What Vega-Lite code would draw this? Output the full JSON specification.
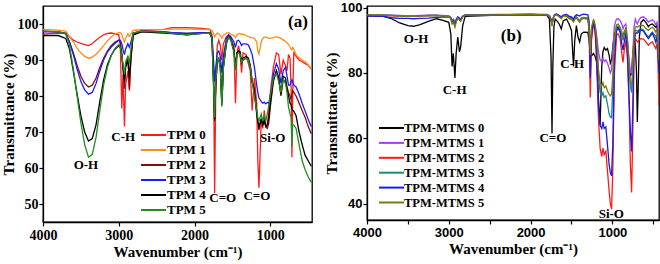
{
"$schema":"https://vega.github.io/schema/vega-lite/v6.json",
"padding":{"left":0,"top":0,"right":1,"bottom":0},
"background":"white",
"config":{"view":{"stroke":"black","strokeWidth":1.3},"axis":{"domainColor":"black","tickColor":"black","labelColor":"black","titleColor":"black","grid":false,"domainWidth":1.3,"tickWidth":1.2,"tickSize":4,"labelFlush":false,"labelOverlap":false},"concat":{"spacing":10}},
"resolve":{"scale":{"color":"independent","x":"independent","y":"independent"},"legend":{"color":"independent"}},
"datasets":{
"a":[
{"s":"TPM 0","w":4000,"t":97.2},{"s":"TPM 0","w":3800,"t":97.5},{"s":"TPM 0","w":3700,"t":97.3},{"s":"TPM 0","w":3650,"t":96.5},{"s":"TPM 0","w":3600,"t":95.5},{"s":"TPM 0","w":3550,"t":95},{"s":"TPM 0","w":3500,"t":94.6},{"s":"TPM 0","w":3450,"t":94.3},{"s":"TPM 0","w":3400,"t":94},{"s":"TPM 0","w":3350,"t":94.6},
{"s":"TPM 0","w":3300,"t":95.5},{"s":"TPM 0","w":3250,"t":96.3},{"s":"TPM 0","w":3200,"t":97},{"s":"TPM 0","w":3150,"t":97.4},{"s":"TPM 0","w":3100,"t":97.5},{"s":"TPM 0","w":3050,"t":97.3},{"s":"TPM 0","w":3000,"t":97},{"s":"TPM 0","w":2980,"t":94},{"s":"TPM 0","w":2960,"t":76.5},{"s":"TPM 0","w":2945,"t":86},
{"s":"TPM 0","w":2925,"t":71.5},{"s":"TPM 0","w":2910,"t":83},{"s":"TPM 0","w":2880,"t":87},{"s":"TPM 0","w":2860,"t":81.5},{"s":"TPM 0","w":2840,"t":91},{"s":"TPM 0","w":2810,"t":97.3},{"s":"TPM 0","w":2700,"t":98.2},{"s":"TPM 0","w":2400,"t":98.5},{"s":"TPM 0","w":2300,"t":99},{"s":"TPM 0","w":2100,"t":99},
{"s":"TPM 0","w":1900,"t":98.8},{"s":"TPM 0","w":1800,"t":98.5},{"s":"TPM 0","w":1770,"t":97},{"s":"TPM 0","w":1750,"t":88},{"s":"TPM 0","w":1735,"t":53},{"s":"TPM 0","w":1720,"t":82},{"s":"TPM 0","w":1700,"t":94},{"s":"TPM 0","w":1680,"t":95.5},{"s":"TPM 0","w":1660,"t":94},{"s":"TPM 0","w":1640,"t":90},
{"s":"TPM 0","w":1620,"t":94.5},{"s":"TPM 0","w":1580,"t":96.5},{"s":"TPM 0","w":1550,"t":96.8},{"s":"TPM 0","w":1520,"t":96},{"s":"TPM 0","w":1480,"t":93.5},{"s":"TPM 0","w":1460,"t":78},{"s":"TPM 0","w":1440,"t":92},{"s":"TPM 0","w":1420,"t":94},{"s":"TPM 0","w":1400,"t":92},{"s":"TPM 0","w":1380,"t":86.5},
{"s":"TPM 0","w":1360,"t":92},{"s":"TPM 0","w":1320,"t":91.5},{"s":"TPM 0","w":1290,"t":89},{"s":"TPM 0","w":1265,"t":87},{"s":"TPM 0","w":1240,"t":76},{"s":"TPM 0","w":1210,"t":85},{"s":"TPM 0","w":1180,"t":78},{"s":"TPM 0","w":1165,"t":62},{"s":"TPM 0","w":1150,"t":54.5},{"s":"TPM 0","w":1120,"t":73},
{"s":"TPM 0","w":1100,"t":71},{"s":"TPM 0","w":1080,"t":76},{"s":"TPM 0","w":1060,"t":72},{"s":"TPM 0","w":1040,"t":71.5},{"s":"TPM 0","w":1020,"t":76},{"s":"TPM 0","w":1000,"t":81},{"s":"TPM 0","w":960,"t":88},{"s":"TPM 0","w":920,"t":92},{"s":"TPM 0","w":890,"t":91.5},{"s":"TPM 0","w":860,"t":86},
{"s":"TPM 0","w":830,"t":90},{"s":"TPM 0","w":800,"t":88.5},{"s":"TPM 0","w":780,"t":87},{"s":"TPM 0","w":760,"t":91.5},{"s":"TPM 0","w":740,"t":90.5},{"s":"TPM 0","w":725,"t":82},{"s":"TPM 0","w":715,"t":63},{"s":"TPM 0","w":705,"t":80},{"s":"TPM 0","w":690,"t":92},{"s":"TPM 0","w":660,"t":91},
{"s":"TPM 0","w":620,"t":90},{"s":"TPM 0","w":580,"t":89.5},{"s":"TPM 0","w":540,"t":89},{"s":"TPM 0","w":500,"t":88.5},{"s":"TPM 0","w":460,"t":87.5},

{"s":"TPM 1","w":4000,"t":98.5},{"s":"TPM 1","w":3800,"t":98.3},{"s":"TPM 1","w":3700,"t":98},{"s":"TPM 1","w":3650,"t":96.5},{"s":"TPM 1","w":3600,"t":95},{"s":"TPM 1","w":3550,"t":93.3},{"s":"TPM 1","w":3500,"t":92},{"s":"TPM 1","w":3450,"t":91},{"s":"TPM 1","w":3400,"t":90.5},{"s":"TPM 1","w":3350,"t":90.8},
{"s":"TPM 1","w":3300,"t":91.6},{"s":"TPM 1","w":3250,"t":92.7},{"s":"TPM 1","w":3200,"t":94},{"s":"TPM 1","w":3150,"t":95.3},{"s":"TPM 1","w":3100,"t":96.4},{"s":"TPM 1","w":3050,"t":97.2},{"s":"TPM 1","w":3000,"t":97.6},{"s":"TPM 1","w":2980,"t":97.6},{"s":"TPM 1","w":2960,"t":97.2},{"s":"TPM 1","w":2945,"t":96},
{"s":"TPM 1","w":2925,"t":95},{"s":"TPM 1","w":2910,"t":96},{"s":"TPM 1","w":2880,"t":97.3},{"s":"TPM 1","w":2860,"t":96.5},{"s":"TPM 1","w":2840,"t":97.3},{"s":"TPM 1","w":2810,"t":98.2},{"s":"TPM 1","w":2700,"t":98.4},{"s":"TPM 1","w":2400,"t":98.5},{"s":"TPM 1","w":2300,"t":98.6},{"s":"TPM 1","w":2100,"t":98.6},
{"s":"TPM 1","w":1900,"t":98.5},{"s":"TPM 1","w":1800,"t":98.5},{"s":"TPM 1","w":1770,"t":98.2},{"s":"TPM 1","w":1750,"t":97.5},{"s":"TPM 1","w":1735,"t":96.5},{"s":"TPM 1","w":1720,"t":97},{"s":"TPM 1","w":1700,"t":97.5},{"s":"TPM 1","w":1680,"t":97.3},{"s":"TPM 1","w":1660,"t":96.8},{"s":"TPM 1","w":1640,"t":96},
{"s":"TPM 1","w":1620,"t":96.8},{"s":"TPM 1","w":1580,"t":97.5},{"s":"TPM 1","w":1550,"t":97.6},{"s":"TPM 1","w":1520,"t":97.2},{"s":"TPM 1","w":1480,"t":96.8},{"s":"TPM 1","w":1460,"t":96.2},{"s":"TPM 1","w":1440,"t":97},{"s":"TPM 1","w":1420,"t":97.3},{"s":"TPM 1","w":1400,"t":97.4},{"s":"TPM 1","w":1380,"t":97},
{"s":"TPM 1","w":1360,"t":97.2},{"s":"TPM 1","w":1320,"t":96.8},{"s":"TPM 1","w":1290,"t":96.5},{"s":"TPM 1","w":1265,"t":96.3},{"s":"TPM 1","w":1240,"t":96.2},{"s":"TPM 1","w":1210,"t":96},{"s":"TPM 1","w":1180,"t":95},{"s":"TPM 1","w":1165,"t":92.5},{"s":"TPM 1","w":1150,"t":91.6},{"s":"TPM 1","w":1120,"t":95},
{"s":"TPM 1","w":1100,"t":96},{"s":"TPM 1","w":1080,"t":96.4},{"s":"TPM 1","w":1060,"t":96.3},{"s":"TPM 1","w":1040,"t":96.2},{"s":"TPM 1","w":1020,"t":96},{"s":"TPM 1","w":1000,"t":96},{"s":"TPM 1","w":960,"t":96.2},{"s":"TPM 1","w":920,"t":96.5},{"s":"TPM 1","w":890,"t":96.3},{"s":"TPM 1","w":860,"t":96},
{"s":"TPM 1","w":830,"t":95.6},{"s":"TPM 1","w":800,"t":95.2},{"s":"TPM 1","w":780,"t":94.8},{"s":"TPM 1","w":760,"t":94.3},{"s":"TPM 1","w":740,"t":93.6},{"s":"TPM 1","w":725,"t":93},{"s":"TPM 1","w":715,"t":92.8},{"s":"TPM 1","w":705,"t":93.5},{"s":"TPM 1","w":690,"t":93},{"s":"TPM 1","w":660,"t":91.5},
{"s":"TPM 1","w":620,"t":90.6},{"s":"TPM 1","w":580,"t":90},{"s":"TPM 1","w":540,"t":89.5},{"s":"TPM 1","w":500,"t":88.6},{"s":"TPM 1","w":460,"t":87.6},

{"s":"TPM 2","w":4000,"t":98},{"s":"TPM 2","w":3800,"t":97.8},{"s":"TPM 2","w":3700,"t":97.5},{"s":"TPM 2","w":3650,"t":95},{"s":"TPM 2","w":3600,"t":92},{"s":"TPM 2","w":3550,"t":88.5},{"s":"TPM 2","w":3500,"t":85.5},{"s":"TPM 2","w":3450,"t":83.5},{"s":"TPM 2","w":3400,"t":82.5},{"s":"TPM 2","w":3350,"t":83},
{"s":"TPM 2","w":3300,"t":85},{"s":"TPM 2","w":3250,"t":88},{"s":"TPM 2","w":3200,"t":90.5},{"s":"TPM 2","w":3150,"t":92.5},{"s":"TPM 2","w":3100,"t":94},{"s":"TPM 2","w":3050,"t":95},{"s":"TPM 2","w":3000,"t":95.5},{"s":"TPM 2","w":2980,"t":95},{"s":"TPM 2","w":2960,"t":92},{"s":"TPM 2","w":2945,"t":88},
{"s":"TPM 2","w":2925,"t":82},{"s":"TPM 2","w":2910,"t":88},{"s":"TPM 2","w":2880,"t":91},{"s":"TPM 2","w":2860,"t":82},{"s":"TPM 2","w":2840,"t":90},{"s":"TPM 2","w":2810,"t":97},{"s":"TPM 2","w":2700,"t":98},{"s":"TPM 2","w":2400,"t":97.8},{"s":"TPM 2","w":2300,"t":97.6},{"s":"TPM 2","w":2100,"t":97.4},
{"s":"TPM 2","w":1900,"t":97.6},{"s":"TPM 2","w":1800,"t":97.6},{"s":"TPM 2","w":1770,"t":96},{"s":"TPM 2","w":1750,"t":85},{"s":"TPM 2","w":1735,"t":73},{"s":"TPM 2","w":1720,"t":83},{"s":"TPM 2","w":1700,"t":90},{"s":"TPM 2","w":1680,"t":90.5},{"s":"TPM 2","w":1660,"t":88.5},{"s":"TPM 2","w":1640,"t":78},
{"s":"TPM 2","w":1620,"t":88},{"s":"TPM 2","w":1580,"t":95},{"s":"TPM 2","w":1550,"t":96.5},{"s":"TPM 2","w":1520,"t":96},{"s":"TPM 2","w":1480,"t":93},{"s":"TPM 2","w":1460,"t":88},{"s":"TPM 2","w":1440,"t":92},{"s":"TPM 2","w":1420,"t":92.5},{"s":"TPM 2","w":1400,"t":91.5},{"s":"TPM 2","w":1380,"t":89},
{"s":"TPM 2","w":1360,"t":90},{"s":"TPM 2","w":1320,"t":90.5},{"s":"TPM 2","w":1290,"t":90},{"s":"TPM 2","w":1265,"t":88.5},{"s":"TPM 2","w":1240,"t":84},{"s":"TPM 2","w":1210,"t":82},{"s":"TPM 2","w":1180,"t":76},{"s":"TPM 2","w":1165,"t":73},{"s":"TPM 2","w":1150,"t":70.5},{"s":"TPM 2","w":1120,"t":73.5},
{"s":"TPM 2","w":1100,"t":72},{"s":"TPM 2","w":1080,"t":73},{"s":"TPM 2","w":1060,"t":71.5},{"s":"TPM 2","w":1040,"t":71},{"s":"TPM 2","w":1020,"t":72.5},{"s":"TPM 2","w":1000,"t":77},{"s":"TPM 2","w":960,"t":84},{"s":"TPM 2","w":920,"t":87},{"s":"TPM 2","w":890,"t":85},{"s":"TPM 2","w":860,"t":80},
{"s":"TPM 2","w":830,"t":84.5},{"s":"TPM 2","w":800,"t":84},{"s":"TPM 2","w":780,"t":82.5},{"s":"TPM 2","w":760,"t":81},{"s":"TPM 2","w":740,"t":80},{"s":"TPM 2","w":725,"t":79},{"s":"TPM 2","w":715,"t":80.5},{"s":"TPM 2","w":705,"t":81.5},{"s":"TPM 2","w":690,"t":81},{"s":"TPM 2","w":660,"t":80},
{"s":"TPM 2","w":620,"t":78},{"s":"TPM 2","w":580,"t":76},{"s":"TPM 2","w":540,"t":74},{"s":"TPM 2","w":500,"t":71.5},{"s":"TPM 2","w":460,"t":69.5},

{"s":"TPM 3","w":4000,"t":97.8},{"s":"TPM 3","w":3800,"t":97.8},{"s":"TPM 3","w":3700,"t":97.3},{"s":"TPM 3","w":3650,"t":95},{"s":"TPM 3","w":3600,"t":91.5},{"s":"TPM 3","w":3550,"t":87.5},{"s":"TPM 3","w":3500,"t":84},{"s":"TPM 3","w":3450,"t":81.7},{"s":"TPM 3","w":3400,"t":80.5},{"s":"TPM 3","w":3350,"t":81},
{"s":"TPM 3","w":3300,"t":83.5},{"s":"TPM 3","w":3250,"t":87},{"s":"TPM 3","w":3200,"t":90},{"s":"TPM 3","w":3150,"t":92.2},{"s":"TPM 3","w":3100,"t":93.6},{"s":"TPM 3","w":3050,"t":94.6},{"s":"TPM 3","w":3000,"t":95.5},{"s":"TPM 3","w":2980,"t":95.5},{"s":"TPM 3","w":2960,"t":94.5},{"s":"TPM 3","w":2945,"t":93},
{"s":"TPM 3","w":2925,"t":91.5},{"s":"TPM 3","w":2910,"t":93},{"s":"TPM 3","w":2880,"t":94.5},{"s":"TPM 3","w":2860,"t":93.5},{"s":"TPM 3","w":2840,"t":95},{"s":"TPM 3","w":2810,"t":97.5},{"s":"TPM 3","w":2700,"t":98},{"s":"TPM 3","w":2400,"t":97.8},{"s":"TPM 3","w":2300,"t":97.6},{"s":"TPM 3","w":2100,"t":97.4},
{"s":"TPM 3","w":1900,"t":97.6},{"s":"TPM 3","w":1800,"t":97.6},{"s":"TPM 3","w":1770,"t":96.5},{"s":"TPM 3","w":1750,"t":90},{"s":"TPM 3","w":1735,"t":84},{"s":"TPM 3","w":1720,"t":88},{"s":"TPM 3","w":1700,"t":92},{"s":"TPM 3","w":1680,"t":92.5},{"s":"TPM 3","w":1660,"t":91},{"s":"TPM 3","w":1640,"t":86.5},
{"s":"TPM 3","w":1620,"t":91},{"s":"TPM 3","w":1580,"t":96},{"s":"TPM 3","w":1550,"t":97},{"s":"TPM 3","w":1520,"t":96.5},{"s":"TPM 3","w":1480,"t":95},{"s":"TPM 3","w":1460,"t":93.5},{"s":"TPM 3","w":1440,"t":95.3},{"s":"TPM 3","w":1420,"t":95.5},{"s":"TPM 3","w":1400,"t":95},{"s":"TPM 3","w":1380,"t":94},
{"s":"TPM 3","w":1360,"t":94.5},{"s":"TPM 3","w":1320,"t":94.5},{"s":"TPM 3","w":1290,"t":94.2},{"s":"TPM 3","w":1265,"t":93},{"s":"TPM 3","w":1240,"t":91.5},{"s":"TPM 3","w":1210,"t":88},{"s":"TPM 3","w":1180,"t":83},{"s":"TPM 3","w":1165,"t":81},{"s":"TPM 3","w":1150,"t":79.5},{"s":"TPM 3","w":1120,"t":78.5},
{"s":"TPM 3","w":1100,"t":78},{"s":"TPM 3","w":1080,"t":78.3},{"s":"TPM 3","w":1060,"t":77.8},{"s":"TPM 3","w":1040,"t":78.2},{"s":"TPM 3","w":1020,"t":78},{"s":"TPM 3","w":1000,"t":80},{"s":"TPM 3","w":960,"t":86},{"s":"TPM 3","w":920,"t":89},{"s":"TPM 3","w":890,"t":87.5},{"s":"TPM 3","w":860,"t":83.5},
{"s":"TPM 3","w":830,"t":87},{"s":"TPM 3","w":800,"t":88},{"s":"TPM 3","w":780,"t":85.5},{"s":"TPM 3","w":760,"t":83},{"s":"TPM 3","w":740,"t":83},{"s":"TPM 3","w":725,"t":84},{"s":"TPM 3","w":715,"t":84.5},{"s":"TPM 3","w":705,"t":84},{"s":"TPM 3","w":690,"t":83},{"s":"TPM 3","w":660,"t":82.5},
{"s":"TPM 3","w":620,"t":80.5},{"s":"TPM 3","w":580,"t":78},{"s":"TPM 3","w":540,"t":75.8},{"s":"TPM 3","w":500,"t":73.5},{"s":"TPM 3","w":460,"t":71.5},

{"s":"TPM 4","w":4000,"t":96.8},{"s":"TPM 4","w":3800,"t":96.8},{"s":"TPM 4","w":3700,"t":96},{"s":"TPM 4","w":3650,"t":93},{"s":"TPM 4","w":3600,"t":87},{"s":"TPM 4","w":3550,"t":80.5},{"s":"TPM 4","w":3500,"t":74.5},{"s":"TPM 4","w":3450,"t":70},{"s":"TPM 4","w":3400,"t":67.5},{"s":"TPM 4","w":3350,"t":68.2},
{"s":"TPM 4","w":3300,"t":72},{"s":"TPM 4","w":3250,"t":78.5},{"s":"TPM 4","w":3200,"t":84.5},{"s":"TPM 4","w":3150,"t":88.7},{"s":"TPM 4","w":3100,"t":91.3},{"s":"TPM 4","w":3050,"t":93},{"s":"TPM 4","w":3000,"t":94},{"s":"TPM 4","w":2980,"t":93.5},{"s":"TPM 4","w":2960,"t":91.5},{"s":"TPM 4","w":2945,"t":88},
{"s":"TPM 4","w":2925,"t":84},{"s":"TPM 4","w":2910,"t":88},{"s":"TPM 4","w":2880,"t":90},{"s":"TPM 4","w":2860,"t":85},{"s":"TPM 4","w":2840,"t":91},{"s":"TPM 4","w":2810,"t":97},{"s":"TPM 4","w":2700,"t":97.8},{"s":"TPM 4","w":2400,"t":97.5},{"s":"TPM 4","w":2300,"t":97.3},{"s":"TPM 4","w":2100,"t":97},
{"s":"TPM 4","w":1900,"t":97.4},{"s":"TPM 4","w":1800,"t":97.5},{"s":"TPM 4","w":1770,"t":96},{"s":"TPM 4","w":1750,"t":84},{"s":"TPM 4","w":1735,"t":73.5},{"s":"TPM 4","w":1720,"t":83},{"s":"TPM 4","w":1700,"t":90},{"s":"TPM 4","w":1680,"t":90},{"s":"TPM 4","w":1660,"t":88},{"s":"TPM 4","w":1640,"t":77.5},
{"s":"TPM 4","w":1620,"t":88},{"s":"TPM 4","w":1580,"t":94.5},{"s":"TPM 4","w":1550,"t":96.5},{"s":"TPM 4","w":1520,"t":95.5},{"s":"TPM 4","w":1480,"t":92.5},{"s":"TPM 4","w":1460,"t":88},{"s":"TPM 4","w":1440,"t":92},{"s":"TPM 4","w":1420,"t":92.5},{"s":"TPM 4","w":1400,"t":92.3},{"s":"TPM 4","w":1380,"t":90},
{"s":"TPM 4","w":1360,"t":90.5},{"s":"TPM 4","w":1320,"t":91},{"s":"TPM 4","w":1290,"t":90.5},{"s":"TPM 4","w":1265,"t":88.5},{"s":"TPM 4","w":1240,"t":84},{"s":"TPM 4","w":1210,"t":81},{"s":"TPM 4","w":1180,"t":75},{"s":"TPM 4","w":1165,"t":73},{"s":"TPM 4","w":1150,"t":71.5},{"s":"TPM 4","w":1120,"t":73.5},
{"s":"TPM 4","w":1100,"t":72},{"s":"TPM 4","w":1080,"t":73.5},{"s":"TPM 4","w":1060,"t":71.5},{"s":"TPM 4","w":1040,"t":72},{"s":"TPM 4","w":1020,"t":74},{"s":"TPM 4","w":1000,"t":78},{"s":"TPM 4","w":960,"t":84.5},{"s":"TPM 4","w":920,"t":87},{"s":"TPM 4","w":890,"t":85},{"s":"TPM 4","w":860,"t":80.5},
{"s":"TPM 4","w":830,"t":85.5},{"s":"TPM 4","w":800,"t":85},{"s":"TPM 4","w":780,"t":82},{"s":"TPM 4","w":760,"t":80},{"s":"TPM 4","w":740,"t":78},{"s":"TPM 4","w":725,"t":77.5},{"s":"TPM 4","w":715,"t":76.5},{"s":"TPM 4","w":705,"t":76},{"s":"TPM 4","w":690,"t":75.8},{"s":"TPM 4","w":660,"t":74.5},
{"s":"TPM 4","w":620,"t":70},{"s":"TPM 4","w":580,"t":66.5},{"s":"TPM 4","w":540,"t":63.5},{"s":"TPM 4","w":500,"t":62},{"s":"TPM 4","w":460,"t":60.5},

{"s":"TPM 5","w":4000,"t":98},{"s":"TPM 5","w":3800,"t":97.9},{"s":"TPM 5","w":3700,"t":97.3},{"s":"TPM 5","w":3650,"t":94},{"s":"TPM 5","w":3600,"t":87.5},{"s":"TPM 5","w":3550,"t":80},{"s":"TPM 5","w":3500,"t":72.5},{"s":"TPM 5","w":3450,"t":66.5},{"s":"TPM 5","w":3400,"t":63},{"s":"TPM 5","w":3350,"t":63.8},
{"s":"TPM 5","w":3300,"t":68.5},{"s":"TPM 5","w":3250,"t":76},{"s":"TPM 5","w":3200,"t":83},{"s":"TPM 5","w":3150,"t":88},{"s":"TPM 5","w":3100,"t":91.2},{"s":"TPM 5","w":3050,"t":93.2},{"s":"TPM 5","w":3000,"t":94.3},{"s":"TPM 5","w":2980,"t":93.5},{"s":"TPM 5","w":2960,"t":91},{"s":"TPM 5","w":2945,"t":89},
{"s":"TPM 5","w":2925,"t":86},{"s":"TPM 5","w":2910,"t":89.5},{"s":"TPM 5","w":2880,"t":91},{"s":"TPM 5","w":2860,"t":89},{"s":"TPM 5","w":2840,"t":93},{"s":"TPM 5","w":2810,"t":97.5},{"s":"TPM 5","w":2700,"t":98},{"s":"TPM 5","w":2400,"t":97.7},{"s":"TPM 5","w":2300,"t":97.4},{"s":"TPM 5","w":2100,"t":97},
{"s":"TPM 5","w":1900,"t":97.4},{"s":"TPM 5","w":1800,"t":97.5},{"s":"TPM 5","w":1770,"t":96},{"s":"TPM 5","w":1750,"t":83},{"s":"TPM 5","w":1735,"t":74},{"s":"TPM 5","w":1720,"t":84},{"s":"TPM 5","w":1700,"t":90},{"s":"TPM 5","w":1680,"t":90.5},{"s":"TPM 5","w":1660,"t":87.5},{"s":"TPM 5","w":1640,"t":77},
{"s":"TPM 5","w":1620,"t":87.5},{"s":"TPM 5","w":1580,"t":95},{"s":"TPM 5","w":1550,"t":96.3},{"s":"TPM 5","w":1520,"t":95.5},{"s":"TPM 5","w":1480,"t":92},{"s":"TPM 5","w":1460,"t":87},{"s":"TPM 5","w":1440,"t":91.5},{"s":"TPM 5","w":1420,"t":92},{"s":"TPM 5","w":1400,"t":91.6},{"s":"TPM 5","w":1380,"t":89.5},
{"s":"TPM 5","w":1360,"t":90},{"s":"TPM 5","w":1320,"t":90.5},{"s":"TPM 5","w":1290,"t":90},{"s":"TPM 5","w":1265,"t":88},{"s":"TPM 5","w":1240,"t":84},{"s":"TPM 5","w":1210,"t":80},{"s":"TPM 5","w":1180,"t":76},{"s":"TPM 5","w":1165,"t":74},{"s":"TPM 5","w":1150,"t":73},{"s":"TPM 5","w":1120,"t":75},
{"s":"TPM 5","w":1100,"t":73},{"s":"TPM 5","w":1080,"t":74.5},{"s":"TPM 5","w":1060,"t":73},{"s":"TPM 5","w":1040,"t":75},{"s":"TPM 5","w":1020,"t":77.5},{"s":"TPM 5","w":1000,"t":80},{"s":"TPM 5","w":960,"t":85},{"s":"TPM 5","w":920,"t":86.3},{"s":"TPM 5","w":890,"t":84},{"s":"TPM 5","w":860,"t":81},
{"s":"TPM 5","w":830,"t":84.7},{"s":"TPM 5","w":800,"t":83.5},{"s":"TPM 5","w":780,"t":81},{"s":"TPM 5","w":760,"t":77},{"s":"TPM 5","w":740,"t":75},{"s":"TPM 5","w":725,"t":74},{"s":"TPM 5","w":715,"t":66},{"s":"TPM 5","w":705,"t":72},{"s":"TPM 5","w":690,"t":72},{"s":"TPM 5","w":660,"t":71},
{"s":"TPM 5","w":620,"t":66.5},{"s":"TPM 5","w":580,"t":62},{"s":"TPM 5","w":540,"t":59.5},{"s":"TPM 5","w":500,"t":57.5},{"s":"TPM 5","w":460,"t":56}
],
"b":[
{"s":"TPM-MTMS 0","w":4000,"t":97.5},{"s":"TPM-MTMS 0","w":3800,"t":97.3},{"s":"TPM-MTMS 0","w":3700,"t":96.6},{"s":"TPM-MTMS 0","w":3600,"t":95.3},{"s":"TPM-MTMS 0","w":3500,"t":94.5},{"s":"TPM-MTMS 0","w":3430,"t":94.3},{"s":"TPM-MTMS 0","w":3350,"t":94.8},{"s":"TPM-MTMS 0","w":3250,"t":95.8},{"s":"TPM-MTMS 0","w":3150,"t":96.6},{"s":"TPM-MTMS 0","w":3080,"t":96.2},
{"s":"TPM-MTMS 0","w":3000,"t":95.5},{"s":"TPM-MTMS 0","w":2975,"t":92},{"s":"TPM-MTMS 0","w":2960,"t":82},{"s":"TPM-MTMS 0","w":2945,"t":86},{"s":"TPM-MTMS 0","w":2925,"t":78.5},{"s":"TPM-MTMS 0","w":2910,"t":86},{"s":"TPM-MTMS 0","w":2890,"t":91},{"s":"TPM-MTMS 0","w":2870,"t":86.5},{"s":"TPM-MTMS 0","w":2855,"t":88},{"s":"TPM-MTMS 0","w":2830,"t":94.5},
{"s":"TPM-MTMS 0","w":2800,"t":97.3},{"s":"TPM-MTMS 0","w":2400,"t":97.7},{"s":"TPM-MTMS 0","w":2000,"t":97.8},{"s":"TPM-MTMS 0","w":1800,"t":97.6},{"s":"TPM-MTMS 0","w":1770,"t":96.5},{"s":"TPM-MTMS 0","w":1750,"t":85},{"s":"TPM-MTMS 0","w":1738,"t":61.5},{"s":"TPM-MTMS 0","w":1728,"t":82},{"s":"TPM-MTMS 0","w":1715,"t":94},{"s":"TPM-MTMS 0","w":1700,"t":96.5},
{"s":"TPM-MTMS 0","w":1680,"t":96},{"s":"TPM-MTMS 0","w":1650,"t":95},{"s":"TPM-MTMS 0","w":1625,"t":93.5},{"s":"TPM-MTMS 0","w":1600,"t":96},{"s":"TPM-MTMS 0","w":1560,"t":96.5},{"s":"TPM-MTMS 0","w":1530,"t":95},{"s":"TPM-MTMS 0","w":1500,"t":93},{"s":"TPM-MTMS 0","w":1475,"t":82},{"s":"TPM-MTMS 0","w":1460,"t":90},{"s":"TPM-MTMS 0","w":1440,"t":94.5},
{"s":"TPM-MTMS 0","w":1420,"t":91},{"s":"TPM-MTMS 0","w":1400,"t":89.5},{"s":"TPM-MTMS 0","w":1380,"t":92},{"s":"TPM-MTMS 0","w":1350,"t":92.5},{"s":"TPM-MTMS 0","w":1300,"t":92.4},{"s":"TPM-MTMS 0","w":1285,"t":90},{"s":"TPM-MTMS 0","w":1270,"t":86},{"s":"TPM-MTMS 0","w":1255,"t":85.2},{"s":"TPM-MTMS 0","w":1230,"t":86},{"s":"TPM-MTMS 0","w":1210,"t":85},
{"s":"TPM-MTMS 0","w":1190,"t":83},{"s":"TPM-MTMS 0","w":1170,"t":72},{"s":"TPM-MTMS 0","w":1150,"t":64},{"s":"TPM-MTMS 0","w":1130,"t":82},{"s":"TPM-MTMS 0","w":1115,"t":86.5},{"s":"TPM-MTMS 0","w":1100,"t":87.8},{"s":"TPM-MTMS 0","w":1080,"t":87},{"s":"TPM-MTMS 0","w":1060,"t":87.5},{"s":"TPM-MTMS 0","w":1040,"t":85.5},{"s":"TPM-MTMS 0","w":1025,"t":83},
{"s":"TPM-MTMS 0","w":1010,"t":84},{"s":"TPM-MTMS 0","w":995,"t":88},{"s":"TPM-MTMS 0","w":975,"t":92},{"s":"TPM-MTMS 0","w":950,"t":93.5},{"s":"TPM-MTMS 0","w":930,"t":94},{"s":"TPM-MTMS 0","w":905,"t":93},{"s":"TPM-MTMS 0","w":885,"t":92},{"s":"TPM-MTMS 0","w":870,"t":91},{"s":"TPM-MTMS 0","w":855,"t":92.5},{"s":"TPM-MTMS 0","w":835,"t":92},
{"s":"TPM-MTMS 0","w":815,"t":88},{"s":"TPM-MTMS 0","w":795,"t":82},{"s":"TPM-MTMS 0","w":780,"t":79},{"s":"TPM-MTMS 0","w":765,"t":80},{"s":"TPM-MTMS 0","w":750,"t":86},{"s":"TPM-MTMS 0","w":735,"t":90},{"s":"TPM-MTMS 0","w":720,"t":89},{"s":"TPM-MTMS 0","w":705,"t":80},{"s":"TPM-MTMS 0","w":695,"t":65},{"s":"TPM-MTMS 0","w":685,"t":75},
{"s":"TPM-MTMS 0","w":670,"t":91},{"s":"TPM-MTMS 0","w":650,"t":95.5},{"s":"TPM-MTMS 0","w":620,"t":96.3},{"s":"TPM-MTMS 0","w":590,"t":95.5},{"s":"TPM-MTMS 0","w":560,"t":94.2},{"s":"TPM-MTMS 0","w":535,"t":94.8},{"s":"TPM-MTMS 0","w":510,"t":95},{"s":"TPM-MTMS 0","w":490,"t":94.5},{"s":"TPM-MTMS 0","w":470,"t":94},{"s":"TPM-MTMS 0","w":455,"t":94.5},
{"s":"TPM-MTMS 0","w":443,"t":91},{"s":"TPM-MTMS 0","w":430,"t":85},

{"s":"TPM-MTMS 1","w":4000,"t":97.8},{"s":"TPM-MTMS 1","w":3800,"t":97.8},{"s":"TPM-MTMS 1","w":3700,"t":97.7},{"s":"TPM-MTMS 1","w":3600,"t":97.6},{"s":"TPM-MTMS 1","w":3500,"t":97.5},{"s":"TPM-MTMS 1","w":3430,"t":97.5},{"s":"TPM-MTMS 1","w":3350,"t":97.6},{"s":"TPM-MTMS 1","w":3250,"t":97.7},{"s":"TPM-MTMS 1","w":3150,"t":97.7},{"s":"TPM-MTMS 1","w":3080,"t":97.6},
{"s":"TPM-MTMS 1","w":3000,"t":97.5},{"s":"TPM-MTMS 1","w":2975,"t":97},{"s":"TPM-MTMS 1","w":2960,"t":96},{"s":"TPM-MTMS 1","w":2945,"t":96.5},{"s":"TPM-MTMS 1","w":2925,"t":95.8},{"s":"TPM-MTMS 1","w":2910,"t":96.5},{"s":"TPM-MTMS 1","w":2890,"t":97.2},{"s":"TPM-MTMS 1","w":2870,"t":96.8},{"s":"TPM-MTMS 1","w":2855,"t":96.6},{"s":"TPM-MTMS 1","w":2830,"t":97.4},
{"s":"TPM-MTMS 1","w":2800,"t":97.8},{"s":"TPM-MTMS 1","w":2400,"t":97.9},{"s":"TPM-MTMS 1","w":2000,"t":98},{"s":"TPM-MTMS 1","w":1800,"t":97.9},{"s":"TPM-MTMS 1","w":1770,"t":97.6},{"s":"TPM-MTMS 1","w":1750,"t":96.5},{"s":"TPM-MTMS 1","w":1738,"t":95},{"s":"TPM-MTMS 1","w":1728,"t":96.5},{"s":"TPM-MTMS 1","w":1715,"t":97.6},{"s":"TPM-MTMS 1","w":1700,"t":98},
{"s":"TPM-MTMS 1","w":1680,"t":98},{"s":"TPM-MTMS 1","w":1650,"t":97.5},{"s":"TPM-MTMS 1","w":1625,"t":97},{"s":"TPM-MTMS 1","w":1600,"t":97.6},{"s":"TPM-MTMS 1","w":1560,"t":97.7},{"s":"TPM-MTMS 1","w":1530,"t":97},{"s":"TPM-MTMS 1","w":1500,"t":96.8},{"s":"TPM-MTMS 1","w":1475,"t":96},{"s":"TPM-MTMS 1","w":1460,"t":96.8},{"s":"TPM-MTMS 1","w":1440,"t":97.2},
{"s":"TPM-MTMS 1","w":1420,"t":96.5},{"s":"TPM-MTMS 1","w":1400,"t":96},{"s":"TPM-MTMS 1","w":1380,"t":96.8},{"s":"TPM-MTMS 1","w":1350,"t":97},{"s":"TPM-MTMS 1","w":1300,"t":96.8},{"s":"TPM-MTMS 1","w":1285,"t":95},{"s":"TPM-MTMS 1","w":1270,"t":86},{"s":"TPM-MTMS 1","w":1255,"t":93},{"s":"TPM-MTMS 1","w":1230,"t":96},{"s":"TPM-MTMS 1","w":1210,"t":94.5},
{"s":"TPM-MTMS 1","w":1190,"t":91},{"s":"TPM-MTMS 1","w":1170,"t":86.5},{"s":"TPM-MTMS 1","w":1150,"t":84},{"s":"TPM-MTMS 1","w":1130,"t":83.5},{"s":"TPM-MTMS 1","w":1115,"t":84.5},{"s":"TPM-MTMS 1","w":1100,"t":83.5},{"s":"TPM-MTMS 1","w":1080,"t":84},{"s":"TPM-MTMS 1","w":1060,"t":83},{"s":"TPM-MTMS 1","w":1040,"t":81.5},{"s":"TPM-MTMS 1","w":1025,"t":80},
{"s":"TPM-MTMS 1","w":1010,"t":81},{"s":"TPM-MTMS 1","w":995,"t":87},{"s":"TPM-MTMS 1","w":975,"t":94.5},{"s":"TPM-MTMS 1","w":950,"t":96.5},{"s":"TPM-MTMS 1","w":930,"t":96.6},{"s":"TPM-MTMS 1","w":905,"t":96},{"s":"TPM-MTMS 1","w":885,"t":95},{"s":"TPM-MTMS 1","w":870,"t":93.5},{"s":"TPM-MTMS 1","w":855,"t":94.5},{"s":"TPM-MTMS 1","w":835,"t":95},
{"s":"TPM-MTMS 1","w":815,"t":90},{"s":"TPM-MTMS 1","w":795,"t":84},{"s":"TPM-MTMS 1","w":780,"t":80.5},{"s":"TPM-MTMS 1","w":765,"t":80},{"s":"TPM-MTMS 1","w":750,"t":86},{"s":"TPM-MTMS 1","w":735,"t":94},{"s":"TPM-MTMS 1","w":720,"t":96.5},{"s":"TPM-MTMS 1","w":705,"t":95.5},{"s":"TPM-MTMS 1","w":695,"t":95},{"s":"TPM-MTMS 1","w":685,"t":95.5},
{"s":"TPM-MTMS 1","w":670,"t":96.5},{"s":"TPM-MTMS 1","w":650,"t":97},{"s":"TPM-MTMS 1","w":620,"t":97.2},{"s":"TPM-MTMS 1","w":590,"t":96.6},{"s":"TPM-MTMS 1","w":560,"t":95.6},{"s":"TPM-MTMS 1","w":535,"t":96},{"s":"TPM-MTMS 1","w":510,"t":96.3},{"s":"TPM-MTMS 1","w":490,"t":95.8},{"s":"TPM-MTMS 1","w":470,"t":94.8},{"s":"TPM-MTMS 1","w":455,"t":95.5},
{"s":"TPM-MTMS 1","w":443,"t":93},{"s":"TPM-MTMS 1","w":430,"t":86},

{"s":"TPM-MTMS 2","w":4000,"t":97.6},{"s":"TPM-MTMS 2","w":3800,"t":97.6},{"s":"TPM-MTMS 2","w":3700,"t":97.5},{"s":"TPM-MTMS 2","w":3600,"t":97.4},{"s":"TPM-MTMS 2","w":3500,"t":97.3},{"s":"TPM-MTMS 2","w":3430,"t":97.3},{"s":"TPM-MTMS 2","w":3350,"t":97.4},{"s":"TPM-MTMS 2","w":3250,"t":97.5},{"s":"TPM-MTMS 2","w":3150,"t":97.6},{"s":"TPM-MTMS 2","w":3080,"t":97.5},
{"s":"TPM-MTMS 2","w":3000,"t":97.3},{"s":"TPM-MTMS 2","w":2975,"t":96.8},{"s":"TPM-MTMS 2","w":2960,"t":95.5},{"s":"TPM-MTMS 2","w":2945,"t":96},{"s":"TPM-MTMS 2","w":2925,"t":95.2},{"s":"TPM-MTMS 2","w":2910,"t":96},{"s":"TPM-MTMS 2","w":2890,"t":97},{"s":"TPM-MTMS 2","w":2870,"t":96.5},{"s":"TPM-MTMS 2","w":2855,"t":96.2},{"s":"TPM-MTMS 2","w":2830,"t":97.2},
{"s":"TPM-MTMS 2","w":2800,"t":97.6},{"s":"TPM-MTMS 2","w":2400,"t":97.7},{"s":"TPM-MTMS 2","w":2000,"t":97.8},{"s":"TPM-MTMS 2","w":1800,"t":97.7},{"s":"TPM-MTMS 2","w":1770,"t":97.4},{"s":"TPM-MTMS 2","w":1750,"t":96.3},{"s":"TPM-MTMS 2","w":1738,"t":94.5},{"s":"TPM-MTMS 2","w":1728,"t":96.2},{"s":"TPM-MTMS 2","w":1715,"t":97.3},{"s":"TPM-MTMS 2","w":1700,"t":97.8},
{"s":"TPM-MTMS 2","w":1680,"t":97.8},{"s":"TPM-MTMS 2","w":1650,"t":97.3},{"s":"TPM-MTMS 2","w":1625,"t":96.8},{"s":"TPM-MTMS 2","w":1600,"t":97.4},{"s":"TPM-MTMS 2","w":1560,"t":97.5},{"s":"TPM-MTMS 2","w":1530,"t":96.8},{"s":"TPM-MTMS 2","w":1500,"t":96.5},{"s":"TPM-MTMS 2","w":1475,"t":95.8},{"s":"TPM-MTMS 2","w":1460,"t":96.6},{"s":"TPM-MTMS 2","w":1440,"t":97},
{"s":"TPM-MTMS 2","w":1420,"t":96.3},{"s":"TPM-MTMS 2","w":1400,"t":95.8},{"s":"TPM-MTMS 2","w":1380,"t":96.6},{"s":"TPM-MTMS 2","w":1350,"t":96.8},{"s":"TPM-MTMS 2","w":1300,"t":96.5},{"s":"TPM-MTMS 2","w":1285,"t":93},{"s":"TPM-MTMS 2","w":1270,"t":72.5},{"s":"TPM-MTMS 2","w":1255,"t":90},{"s":"TPM-MTMS 2","w":1230,"t":95.5},{"s":"TPM-MTMS 2","w":1210,"t":92},
{"s":"TPM-MTMS 2","w":1190,"t":82},{"s":"TPM-MTMS 2","w":1170,"t":66},{"s":"TPM-MTMS 2","w":1150,"t":57},{"s":"TPM-MTMS 2","w":1130,"t":54.5},{"s":"TPM-MTMS 2","w":1115,"t":57},{"s":"TPM-MTMS 2","w":1100,"t":55},{"s":"TPM-MTMS 2","w":1080,"t":56},{"s":"TPM-MTMS 2","w":1060,"t":50},{"s":"TPM-MTMS 2","w":1040,"t":44},{"s":"TPM-MTMS 2","w":1025,"t":40},
{"s":"TPM-MTMS 2","w":1010,"t":38.3},{"s":"TPM-MTMS 2","w":995,"t":50},{"s":"TPM-MTMS 2","w":975,"t":80},{"s":"TPM-MTMS 2","w":950,"t":91.5},{"s":"TPM-MTMS 2","w":930,"t":92},{"s":"TPM-MTMS 2","w":905,"t":90.5},{"s":"TPM-MTMS 2","w":885,"t":86},{"s":"TPM-MTMS 2","w":870,"t":83.2},{"s":"TPM-MTMS 2","w":855,"t":87},{"s":"TPM-MTMS 2","w":835,"t":90},
{"s":"TPM-MTMS 2","w":815,"t":84},{"s":"TPM-MTMS 2","w":795,"t":70},{"s":"TPM-MTMS 2","w":780,"t":52},{"s":"TPM-MTMS 2","w":765,"t":43.4},{"s":"TPM-MTMS 2","w":750,"t":62},{"s":"TPM-MTMS 2","w":735,"t":85},{"s":"TPM-MTMS 2","w":720,"t":90.5},{"s":"TPM-MTMS 2","w":705,"t":90},{"s":"TPM-MTMS 2","w":695,"t":89.5},{"s":"TPM-MTMS 2","w":685,"t":89.6},
{"s":"TPM-MTMS 2","w":670,"t":90.2},{"s":"TPM-MTMS 2","w":650,"t":90.5},{"s":"TPM-MTMS 2","w":620,"t":90.4},{"s":"TPM-MTMS 2","w":590,"t":89.5},{"s":"TPM-MTMS 2","w":560,"t":88.5},{"s":"TPM-MTMS 2","w":535,"t":89.2},{"s":"TPM-MTMS 2","w":510,"t":89.5},{"s":"TPM-MTMS 2","w":490,"t":88.5},{"s":"TPM-MTMS 2","w":470,"t":87.5},{"s":"TPM-MTMS 2","w":455,"t":89},
{"s":"TPM-MTMS 2","w":443,"t":84},{"s":"TPM-MTMS 2","w":430,"t":70},

{"s":"TPM-MTMS 3","w":4000,"t":97.7},{"s":"TPM-MTMS 3","w":3800,"t":97.7},{"s":"TPM-MTMS 3","w":3700,"t":97.6},{"s":"TPM-MTMS 3","w":3600,"t":97.5},{"s":"TPM-MTMS 3","w":3500,"t":97.4},{"s":"TPM-MTMS 3","w":3430,"t":97.4},{"s":"TPM-MTMS 3","w":3350,"t":97.5},{"s":"TPM-MTMS 3","w":3250,"t":97.6},{"s":"TPM-MTMS 3","w":3150,"t":97.6},{"s":"TPM-MTMS 3","w":3080,"t":97.5},
{"s":"TPM-MTMS 3","w":3000,"t":97.4},{"s":"TPM-MTMS 3","w":2975,"t":96.9},{"s":"TPM-MTMS 3","w":2960,"t":95.8},{"s":"TPM-MTMS 3","w":2945,"t":96.3},{"s":"TPM-MTMS 3","w":2925,"t":95.5},{"s":"TPM-MTMS 3","w":2910,"t":96.3},{"s":"TPM-MTMS 3","w":2890,"t":97.1},{"s":"TPM-MTMS 3","w":2870,"t":96.7},{"s":"TPM-MTMS 3","w":2855,"t":96.4},{"s":"TPM-MTMS 3","w":2830,"t":97.3},
{"s":"TPM-MTMS 3","w":2800,"t":97.7},{"s":"TPM-MTMS 3","w":2400,"t":97.8},{"s":"TPM-MTMS 3","w":2000,"t":97.9},{"s":"TPM-MTMS 3","w":1800,"t":97.8},{"s":"TPM-MTMS 3","w":1770,"t":97.5},{"s":"TPM-MTMS 3","w":1750,"t":96.4},{"s":"TPM-MTMS 3","w":1738,"t":94.8},{"s":"TPM-MTMS 3","w":1728,"t":96.4},{"s":"TPM-MTMS 3","w":1715,"t":97.5},{"s":"TPM-MTMS 3","w":1700,"t":97.9},
{"s":"TPM-MTMS 3","w":1680,"t":97.9},{"s":"TPM-MTMS 3","w":1650,"t":97.4},{"s":"TPM-MTMS 3","w":1625,"t":96.9},{"s":"TPM-MTMS 3","w":1600,"t":97.5},{"s":"TPM-MTMS 3","w":1560,"t":97.6},{"s":"TPM-MTMS 3","w":1530,"t":96.9},{"s":"TPM-MTMS 3","w":1500,"t":96.7},{"s":"TPM-MTMS 3","w":1475,"t":96},{"s":"TPM-MTMS 3","w":1460,"t":96.7},{"s":"TPM-MTMS 3","w":1440,"t":97.1},
{"s":"TPM-MTMS 3","w":1420,"t":96.4},{"s":"TPM-MTMS 3","w":1400,"t":95.9},{"s":"TPM-MTMS 3","w":1380,"t":96.7},{"s":"TPM-MTMS 3","w":1350,"t":96.9},{"s":"TPM-MTMS 3","w":1300,"t":96.7},{"s":"TPM-MTMS 3","w":1285,"t":94},{"s":"TPM-MTMS 3","w":1270,"t":84},{"s":"TPM-MTMS 3","w":1255,"t":93.5},{"s":"TPM-MTMS 3","w":1230,"t":96},{"s":"TPM-MTMS 3","w":1210,"t":94},
{"s":"TPM-MTMS 3","w":1190,"t":89},{"s":"TPM-MTMS 3","w":1170,"t":79},{"s":"TPM-MTMS 3","w":1150,"t":74},{"s":"TPM-MTMS 3","w":1130,"t":73},{"s":"TPM-MTMS 3","w":1115,"t":74},{"s":"TPM-MTMS 3","w":1100,"t":72.5},{"s":"TPM-MTMS 3","w":1080,"t":73},{"s":"TPM-MTMS 3","w":1060,"t":70.5},{"s":"TPM-MTMS 3","w":1040,"t":67.5},{"s":"TPM-MTMS 3","w":1025,"t":66.5},
{"s":"TPM-MTMS 3","w":1010,"t":66.3},{"s":"TPM-MTMS 3","w":995,"t":75},{"s":"TPM-MTMS 3","w":975,"t":89},{"s":"TPM-MTMS 3","w":950,"t":94.2},{"s":"TPM-MTMS 3","w":930,"t":94.4},{"s":"TPM-MTMS 3","w":905,"t":93.5},{"s":"TPM-MTMS 3","w":885,"t":91.5},{"s":"TPM-MTMS 3","w":870,"t":90},{"s":"TPM-MTMS 3","w":855,"t":91.5},{"s":"TPM-MTMS 3","w":835,"t":93},
{"s":"TPM-MTMS 3","w":815,"t":89},{"s":"TPM-MTMS 3","w":795,"t":81},{"s":"TPM-MTMS 3","w":780,"t":76},{"s":"TPM-MTMS 3","w":765,"t":74},{"s":"TPM-MTMS 3","w":750,"t":80},{"s":"TPM-MTMS 3","w":735,"t":90},{"s":"TPM-MTMS 3","w":720,"t":93},{"s":"TPM-MTMS 3","w":705,"t":93},{"s":"TPM-MTMS 3","w":695,"t":92.8},{"s":"TPM-MTMS 3","w":685,"t":93},
{"s":"TPM-MTMS 3","w":670,"t":93.3},{"s":"TPM-MTMS 3","w":650,"t":93.5},{"s":"TPM-MTMS 3","w":620,"t":93.2},{"s":"TPM-MTMS 3","w":590,"t":92},{"s":"TPM-MTMS 3","w":560,"t":91},{"s":"TPM-MTMS 3","w":535,"t":91.8},{"s":"TPM-MTMS 3","w":510,"t":92.5},{"s":"TPM-MTMS 3","w":490,"t":91.8},{"s":"TPM-MTMS 3","w":470,"t":91},{"s":"TPM-MTMS 3","w":455,"t":92},
{"s":"TPM-MTMS 3","w":443,"t":88},{"s":"TPM-MTMS 3","w":430,"t":82},

{"s":"TPM-MTMS 4","w":4000,"t":97.5},{"s":"TPM-MTMS 4","w":3800,"t":97.3},{"s":"TPM-MTMS 4","w":3700,"t":96.9},{"s":"TPM-MTMS 4","w":3600,"t":96.7},{"s":"TPM-MTMS 4","w":3500,"t":96.7},{"s":"TPM-MTMS 4","w":3430,"t":96.6},{"s":"TPM-MTMS 4","w":3350,"t":96.7},{"s":"TPM-MTMS 4","w":3250,"t":96.8},{"s":"TPM-MTMS 4","w":3150,"t":97},{"s":"TPM-MTMS 4","w":3080,"t":97.1},
{"s":"TPM-MTMS 4","w":3000,"t":97.2},{"s":"TPM-MTMS 4","w":2975,"t":96.8},{"s":"TPM-MTMS 4","w":2960,"t":95.5},{"s":"TPM-MTMS 4","w":2945,"t":96},{"s":"TPM-MTMS 4","w":2925,"t":94.8},{"s":"TPM-MTMS 4","w":2910,"t":95.8},{"s":"TPM-MTMS 4","w":2890,"t":97},{"s":"TPM-MTMS 4","w":2870,"t":96.5},{"s":"TPM-MTMS 4","w":2855,"t":96.3},{"s":"TPM-MTMS 4","w":2830,"t":97.3},
{"s":"TPM-MTMS 4","w":2800,"t":97.7},{"s":"TPM-MTMS 4","w":2400,"t":97.8},{"s":"TPM-MTMS 4","w":2000,"t":97.9},{"s":"TPM-MTMS 4","w":1800,"t":97.8},{"s":"TPM-MTMS 4","w":1770,"t":97.5},{"s":"TPM-MTMS 4","w":1750,"t":96.4},{"s":"TPM-MTMS 4","w":1738,"t":94.7},{"s":"TPM-MTMS 4","w":1728,"t":96.3},{"s":"TPM-MTMS 4","w":1715,"t":97.4},{"s":"TPM-MTMS 4","w":1700,"t":97.9},
{"s":"TPM-MTMS 4","w":1680,"t":98},{"s":"TPM-MTMS 4","w":1650,"t":97.6},{"s":"TPM-MTMS 4","w":1625,"t":97.2},{"s":"TPM-MTMS 4","w":1600,"t":97.7},{"s":"TPM-MTMS 4","w":1560,"t":97.9},{"s":"TPM-MTMS 4","w":1530,"t":97.4},{"s":"TPM-MTMS 4","w":1500,"t":97.2},{"s":"TPM-MTMS 4","w":1475,"t":96.5},{"s":"TPM-MTMS 4","w":1460,"t":97.3},{"s":"TPM-MTMS 4","w":1440,"t":97.8},
{"s":"TPM-MTMS 4","w":1420,"t":97.6},{"s":"TPM-MTMS 4","w":1400,"t":97.4},{"s":"TPM-MTMS 4","w":1380,"t":97.8},{"s":"TPM-MTMS 4","w":1350,"t":98},{"s":"TPM-MTMS 4","w":1300,"t":97.8},{"s":"TPM-MTMS 4","w":1285,"t":96},{"s":"TPM-MTMS 4","w":1270,"t":78.5},{"s":"TPM-MTMS 4","w":1255,"t":92},{"s":"TPM-MTMS 4","w":1230,"t":95.8},{"s":"TPM-MTMS 4","w":1210,"t":93},
{"s":"TPM-MTMS 4","w":1190,"t":85},{"s":"TPM-MTMS 4","w":1170,"t":70},{"s":"TPM-MTMS 4","w":1150,"t":64},{"s":"TPM-MTMS 4","w":1130,"t":63},{"s":"TPM-MTMS 4","w":1115,"t":65},{"s":"TPM-MTMS 4","w":1100,"t":63},{"s":"TPM-MTMS 4","w":1080,"t":63.5},{"s":"TPM-MTMS 4","w":1060,"t":58},{"s":"TPM-MTMS 4","w":1040,"t":52},{"s":"TPM-MTMS 4","w":1025,"t":49.5},
{"s":"TPM-MTMS 4","w":1010,"t":48.5},{"s":"TPM-MTMS 4","w":995,"t":58},{"s":"TPM-MTMS 4","w":975,"t":84},{"s":"TPM-MTMS 4","w":950,"t":93},{"s":"TPM-MTMS 4","w":930,"t":93.6},{"s":"TPM-MTMS 4","w":905,"t":92.5},{"s":"TPM-MTMS 4","w":885,"t":89},{"s":"TPM-MTMS 4","w":870,"t":87},{"s":"TPM-MTMS 4","w":855,"t":89.5},{"s":"TPM-MTMS 4","w":835,"t":92},
{"s":"TPM-MTMS 4","w":815,"t":86},{"s":"TPM-MTMS 4","w":795,"t":72},{"s":"TPM-MTMS 4","w":780,"t":62},{"s":"TPM-MTMS 4","w":765,"t":56},{"s":"TPM-MTMS 4","w":750,"t":70},{"s":"TPM-MTMS 4","w":735,"t":88},{"s":"TPM-MTMS 4","w":720,"t":92},{"s":"TPM-MTMS 4","w":705,"t":92.3},{"s":"TPM-MTMS 4","w":695,"t":92.2},{"s":"TPM-MTMS 4","w":685,"t":92.4},
{"s":"TPM-MTMS 4","w":670,"t":93},{"s":"TPM-MTMS 4","w":650,"t":93.2},{"s":"TPM-MTMS 4","w":620,"t":92.8},{"s":"TPM-MTMS 4","w":590,"t":91.6},{"s":"TPM-MTMS 4","w":560,"t":90.5},{"s":"TPM-MTMS 4","w":535,"t":91.4},{"s":"TPM-MTMS 4","w":510,"t":92.2},{"s":"TPM-MTMS 4","w":490,"t":91},{"s":"TPM-MTMS 4","w":470,"t":89.5},{"s":"TPM-MTMS 4","w":455,"t":91},
{"s":"TPM-MTMS 4","w":443,"t":87},{"s":"TPM-MTMS 4","w":430,"t":80},

{"s":"TPM-MTMS 5","w":4000,"t":97.8},{"s":"TPM-MTMS 5","w":3800,"t":97.7},{"s":"TPM-MTMS 5","w":3700,"t":97.6},{"s":"TPM-MTMS 5","w":3600,"t":97.5},{"s":"TPM-MTMS 5","w":3500,"t":97.4},{"s":"TPM-MTMS 5","w":3430,"t":97.4},{"s":"TPM-MTMS 5","w":3350,"t":97.5},{"s":"TPM-MTMS 5","w":3250,"t":97.6},{"s":"TPM-MTMS 5","w":3150,"t":97.6},{"s":"TPM-MTMS 5","w":3080,"t":97.5},
{"s":"TPM-MTMS 5","w":3000,"t":97.3},{"s":"TPM-MTMS 5","w":2975,"t":96.6},{"s":"TPM-MTMS 5","w":2960,"t":95},{"s":"TPM-MTMS 5","w":2945,"t":95.6},{"s":"TPM-MTMS 5","w":2925,"t":94},{"s":"TPM-MTMS 5","w":2910,"t":95.5},{"s":"TPM-MTMS 5","w":2890,"t":96.8},{"s":"TPM-MTMS 5","w":2870,"t":96.2},{"s":"TPM-MTMS 5","w":2855,"t":95.8},{"s":"TPM-MTMS 5","w":2830,"t":97.1},
{"s":"TPM-MTMS 5","w":2800,"t":97.7},{"s":"TPM-MTMS 5","w":2400,"t":97.8},{"s":"TPM-MTMS 5","w":2000,"t":97.9},{"s":"TPM-MTMS 5","w":1800,"t":97.8},{"s":"TPM-MTMS 5","w":1770,"t":97.5},{"s":"TPM-MTMS 5","w":1750,"t":96.2},{"s":"TPM-MTMS 5","w":1738,"t":94.3},{"s":"TPM-MTMS 5","w":1728,"t":96.2},{"s":"TPM-MTMS 5","w":1715,"t":97.4},{"s":"TPM-MTMS 5","w":1700,"t":97.8},
{"s":"TPM-MTMS 5","w":1680,"t":97.8},{"s":"TPM-MTMS 5","w":1650,"t":97.2},{"s":"TPM-MTMS 5","w":1625,"t":96.6},{"s":"TPM-MTMS 5","w":1600,"t":97.4},{"s":"TPM-MTMS 5","w":1560,"t":97.5},{"s":"TPM-MTMS 5","w":1530,"t":96.6},{"s":"TPM-MTMS 5","w":1500,"t":96.4},{"s":"TPM-MTMS 5","w":1475,"t":95.6},{"s":"TPM-MTMS 5","w":1460,"t":96.4},{"s":"TPM-MTMS 5","w":1440,"t":96.9},
{"s":"TPM-MTMS 5","w":1420,"t":96.2},{"s":"TPM-MTMS 5","w":1400,"t":95.5},{"s":"TPM-MTMS 5","w":1380,"t":96.4},{"s":"TPM-MTMS 5","w":1350,"t":96.7},{"s":"TPM-MTMS 5","w":1300,"t":96.5},{"s":"TPM-MTMS 5","w":1285,"t":94.5},{"s":"TPM-MTMS 5","w":1270,"t":85.5},{"s":"TPM-MTMS 5","w":1255,"t":94},{"s":"TPM-MTMS 5","w":1230,"t":96.5},{"s":"TPM-MTMS 5","w":1210,"t":94.5},
{"s":"TPM-MTMS 5","w":1190,"t":90},{"s":"TPM-MTMS 5","w":1170,"t":81},{"s":"TPM-MTMS 5","w":1150,"t":77},{"s":"TPM-MTMS 5","w":1130,"t":76},{"s":"TPM-MTMS 5","w":1115,"t":77},{"s":"TPM-MTMS 5","w":1100,"t":75.5},{"s":"TPM-MTMS 5","w":1080,"t":76},{"s":"TPM-MTMS 5","w":1060,"t":74.5},{"s":"TPM-MTMS 5","w":1040,"t":73.5},{"s":"TPM-MTMS 5","w":1025,"t":73},
{"s":"TPM-MTMS 5","w":1010,"t":73.5},{"s":"TPM-MTMS 5","w":995,"t":79},{"s":"TPM-MTMS 5","w":975,"t":90.5},{"s":"TPM-MTMS 5","w":950,"t":94.8},{"s":"TPM-MTMS 5","w":930,"t":95},{"s":"TPM-MTMS 5","w":905,"t":94},{"s":"TPM-MTMS 5","w":885,"t":92.5},{"s":"TPM-MTMS 5","w":870,"t":91},{"s":"TPM-MTMS 5","w":855,"t":92.5},{"s":"TPM-MTMS 5","w":835,"t":94},
{"s":"TPM-MTMS 5","w":815,"t":90},{"s":"TPM-MTMS 5","w":795,"t":82},{"s":"TPM-MTMS 5","w":780,"t":77},{"s":"TPM-MTMS 5","w":765,"t":76},{"s":"TPM-MTMS 5","w":750,"t":81},{"s":"TPM-MTMS 5","w":735,"t":91},{"s":"TPM-MTMS 5","w":720,"t":94},{"s":"TPM-MTMS 5","w":705,"t":94.2},{"s":"TPM-MTMS 5","w":695,"t":94},{"s":"TPM-MTMS 5","w":685,"t":94.2},
{"s":"TPM-MTMS 5","w":670,"t":94.4},{"s":"TPM-MTMS 5","w":650,"t":94.6},{"s":"TPM-MTMS 5","w":620,"t":94.5},{"s":"TPM-MTMS 5","w":590,"t":93.6},{"s":"TPM-MTMS 5","w":560,"t":93},{"s":"TPM-MTMS 5","w":535,"t":93.6},{"s":"TPM-MTMS 5","w":510,"t":94},{"s":"TPM-MTMS 5","w":490,"t":93.5},{"s":"TPM-MTMS 5","w":470,"t":92.5},{"s":"TPM-MTMS 5","w":455,"t":93.5},
{"s":"TPM-MTMS 5","w":443,"t":89},{"s":"TPM-MTMS 5","w":430,"t":84}
],
"la":[{"w":3433,"t":60.8,"label":"O-H"},{"w":2941,"t":68.6,"label":"C-H"},{"w":1628,"t":51.6,"label":"C=O"},{"w":1177,"t":52.1,"label":"C=O"},{"w":968,"t":68.4,"label":"Si-O"}],
"pa":[{"w":636,"t":100.6,"label":"(a)"}],
"lb":[{"w":3400,"t":90.3,"label":"O-H"},{"w":2929,"t":74.7,"label":"C-H"},{"w":1491,"t":82.8,"label":"C-H"},{"w":1727,"t":60.0,"label":"C=O"},{"w":1013,"t":36.8,"label":"Si-O"}],
"pb":[{"w":2237,"t":91.4,"label":"(b)"}]
},
"hconcat":[
{
"width":269,"height":216,
"layer":[
{"data":{"name":"a"},"mark":{"type":"line","strokeWidth":1.3,"clip":true},
"encoding":{
"x":{"field":"w","type":"quantitative","scale":{"domain":[4000,450],"nice":false,"zero":false},
"axis":{"values":[4000,3500,3000,2500,2000,1500,1000,500],"format":"d","labelExpr":"datum.value % 1000 == 0 ? datum.label : ''","title":"Wavenumber (cm⁻¹)","labelFont":"Liberation Serif","labelFontSize":14,"labelFontWeight":"bold","titleFont":"Liberation Serif","titleFontSize":15,"titleFontWeight":"bold","labelPadding":2,"titlePadding":2}},
"y":{"field":"t","type":"quantitative","scale":{"domain":[45,105],"nice":false,"zero":false},
"axis":{"values":[50,55,60,65,70,75,80,85,90,95,100],"labelExpr":"datum.value % 10 == 0 ? datum.label : ''","title":"Transmittance (%)","labelFont":"Liberation Serif","labelFontSize":14,"labelFontWeight":"bold","titleFont":"Liberation Serif","titleFontSize":15,"titleFontWeight":"bold","labelPadding":1,"titlePadding":1}},
"color":{"field":"s","type":"nominal","scale":{"domain":["TPM 0","TPM 1","TPM 2","TPM 3","TPM 4","TPM 5"],"range":["#ff1a1a","#ff8c1a","#8b0a0a","#1a1aff","#000000","#1f8f1f"]},
"legend":{"orient":"none","legendX":103,"legendY":121.5,"title":null,"symbolType":"M-2,0H2","symbolSize":156,"symbolStrokeWidth":2,"labelFont":"Liberation Serif","labelFontWeight":"bold","labelFontSize":13,"labelColor":"black","rowPadding":0,"labelOffset":6}}
}},
{"data":{"name":"la"},"mark":{"type":"text","font":"Liberation Serif","fontWeight":"bold","fontSize":13,"color":"black","baseline":"middle"},
"encoding":{"x":{"field":"w","type":"quantitative"},"y":{"field":"t","type":"quantitative"},"text":{"field":"label"}}},
{"data":{"name":"pa"},"mark":{"type":"text","font":"Liberation Serif","fontWeight":"bold","fontSize":17,"color":"black","baseline":"middle"},
"encoding":{"x":{"field":"w","type":"quantitative"},"y":{"field":"t","type":"quantitative"},"text":{"field":"label"}}}
]
},
{
"width":292,"height":214,
"layer":[
{"data":{"name":"b"},"mark":{"type":"line","strokeWidth":1.3,"clip":true},
"encoding":{
"x":{"field":"w","type":"quantitative","scale":{"domain":[4000,430],"nice":false,"zero":false},
"axis":{"values":[4000,3500,3000,2500,2000,1500,1000,500],"format":"d","labelExpr":"datum.value % 1000 == 0 ? datum.label : ''","title":"Wavenumber (cm⁻¹)","labelFont":"Liberation Sans","labelFontSize":13,"labelFontWeight":"bold","titleFont":"Liberation Serif","titleFontSize":15,"titleFontWeight":"bold","labelPadding":2,"titlePadding":2}},
"y":{"field":"t","type":"quantitative","scale":{"domain":[35,100.5],"nice":false,"zero":false},
"axis":{"values":[40,45,50,55,60,65,70,75,80,85,90,95,100],"labelExpr":"datum.value % 10 == 0 ? datum.label : ''","title":"Transmittance (%)","labelFont":"Liberation Sans","labelFontSize":13,"labelFontWeight":"bold","titleFont":"Liberation Serif","titleFontSize":15,"titleFontWeight":"bold","labelPadding":1,"titlePadding":1}},
"color":{"field":"s","type":"nominal","scale":{"domain":["TPM-MTMS 0","TPM-MTMS 1","TPM-MTMS 2","TPM-MTMS 3","TPM-MTMS 4","TPM-MTMS 5"],"range":["#000000","#a040ff","#ff1a1a","#1a8a80","#1a1ae6","#7a7a10"]},
"legend":{"orient":"none","legendX":17,"legendY":114.5,"title":null,"symbolType":"M-2,0H2","symbolSize":156,"symbolStrokeWidth":2,"labelFont":"Liberation Serif","labelFontWeight":"bold","labelFontSize":12.5,"labelColor":"black","rowPadding":0.9,"labelOffset":5}}
}},
{"data":{"name":"lb"},"mark":{"type":"text","font":"Liberation Serif","fontWeight":"bold","fontSize":13,"color":"black","baseline":"middle"},
"encoding":{"x":{"field":"w","type":"quantitative"},"y":{"field":"t","type":"quantitative"},"text":{"field":"label"}}},
{"data":{"name":"pb"},"mark":{"type":"text","font":"Liberation Serif","fontWeight":"bold","fontSize":17,"color":"black","baseline":"middle"},
"encoding":{"x":{"field":"w","type":"quantitative"},"y":{"field":"t","type":"quantitative"},"text":{"field":"label"}}}
]
}
]
}
